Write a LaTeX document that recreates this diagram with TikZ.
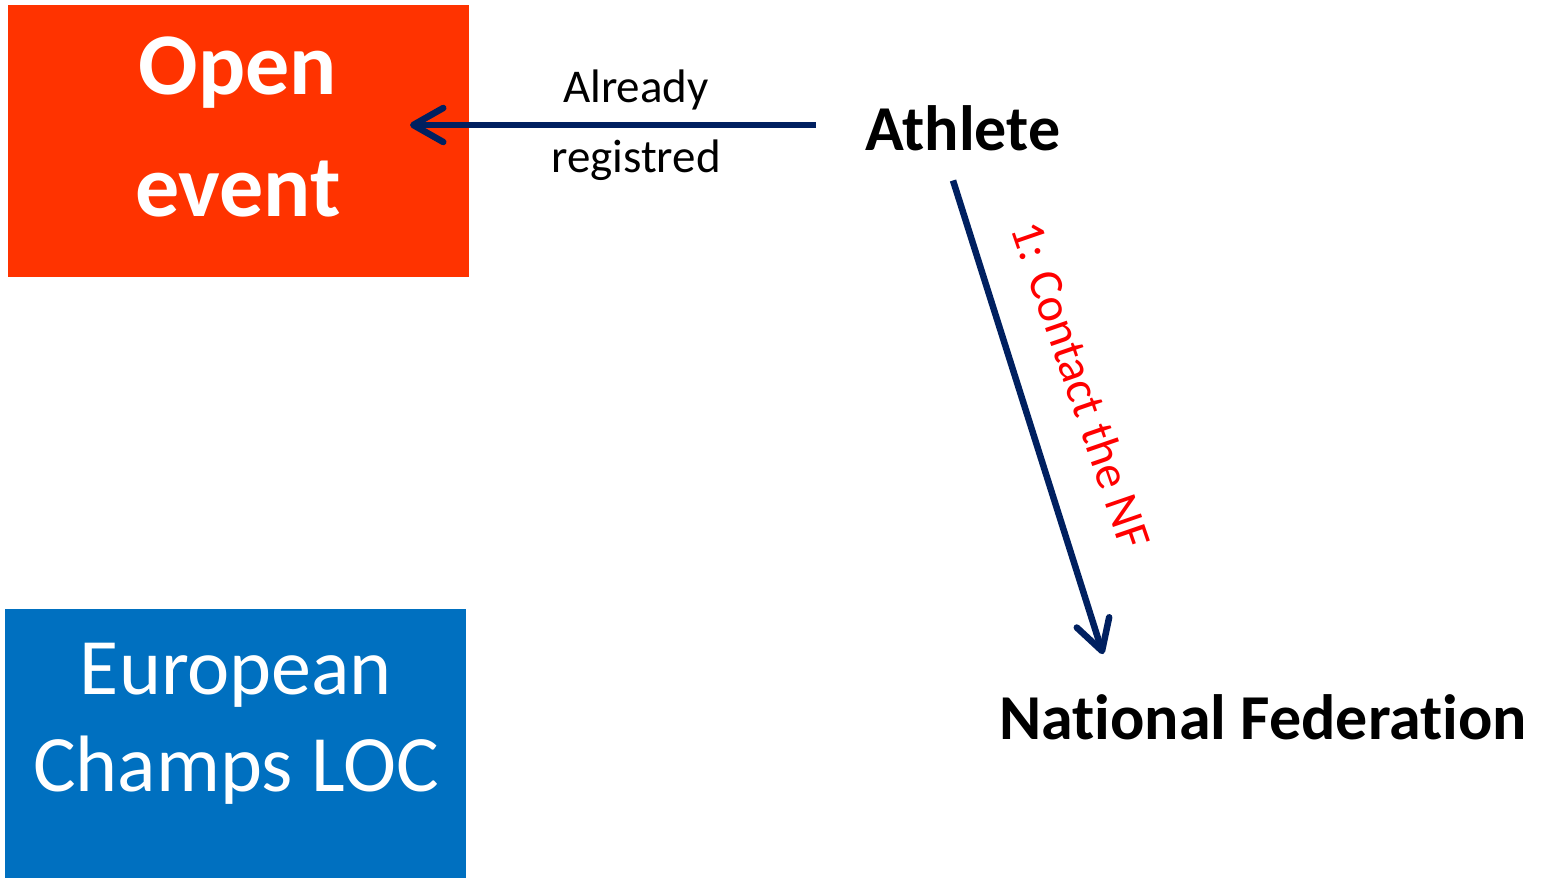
\documentclass[tikz,border=0pt]{standalone}
\usepackage{fontspec}
\setmainfont{Carlito}[Ligatures={NoCommon}]
\usetikzlibrary{arrows.meta}
\definecolor{oorange}{HTML}{FF3300}
\definecolor{lblue}{HTML}{0070C0}
\definecolor{navy}{HTML}{002060}
\definecolor{lred}{HTML}{FF0000}
\begin{document}
\begin{tikzpicture}[x=1pt,y=-1pt,
  boxshape/.style={draw=none,inner sep=0pt,outer sep=0pt},
  plain/.style={inner sep=0pt,outer sep=0pt,text=black},
  arr/.style={draw=navy,line width=6.5pt,-{Straight Barb[length=30pt,width=34pt,round]}},
]
\useasboundingbox (0,0) rectangle (1542,878);
% boxes
\node[boxshape,fill=oorange,minimum width=461pt,minimum height=272pt] (open) at (238.5,141) {};
\node[plain,text=white,align=center,font=\fontsize{88}{122}\selectfont\bfseries] (opentext) at (238,127) {Open\\event};
\node[boxshape,fill=lblue,minimum width=461pt,minimum height=269pt] (loc) at (235.5,743.5) {};
\node[plain,text=white,align=center,font=\fontsize{80}{97}\selectfont] (loctext) at (236,724) {European\\Champs LOC};
% text nodes
\node[plain,anchor=base,font=\fontsize{64}{76}\selectfont\bfseries] (athlete) at (963,150) {Athlete};
\node[plain,anchor=base,font=\fontsize{64}{76}\selectfont\bfseries] (nf) at (1263,739) {National Federation};
% connector end points
\coordinate (startA) at ([xshift=-50pt]athlete.west);
\coordinate (tipA) at ([xshift=-59pt]open.east);
% connectors
\draw[arr] (startA |- 0,125) -- (tipA |- 0,125)
  node[plain,pos=0.443,align=center,font=\fontsize{47}{70}\selectfont] (lbl0) {Already\\registred};
\draw[arr] ([xshift=-10pt,yshift=-30pt]athlete.south) -- ([xshift=-160pt,yshift=40pt]nf.north);
\node[plain,text=lred,rotate=-71,font=\fontsize{48}{58}\selectfont] (lbl1) at (1082,385) {1: Contact the NF};
\end{tikzpicture}
\end{document}
